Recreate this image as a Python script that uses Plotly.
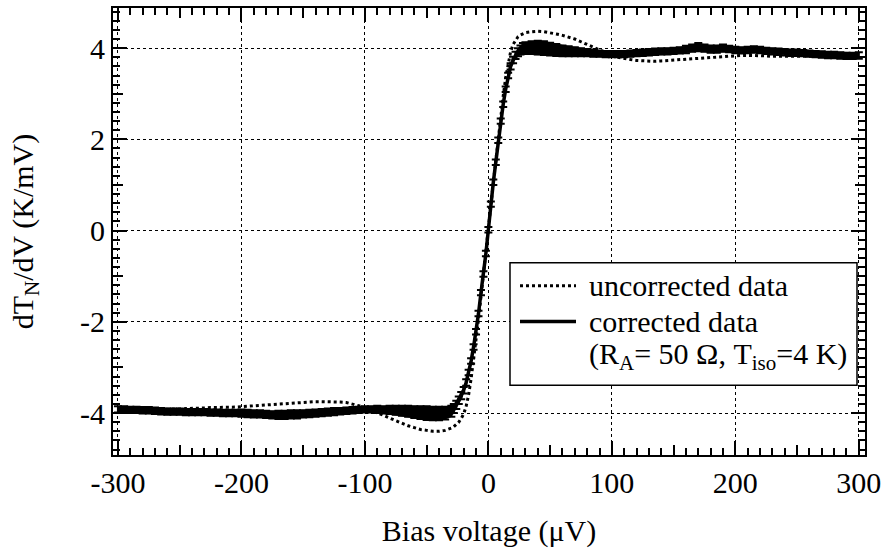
import plotly.graph_objects as go

# ---- data ----
bias_uV = [-300, -295, -290, -285, -280, -275, -270, -265, -260, -255, -250, -245, -240, -235, -230,
           -225, -220, -215, -210, -205, -200, -195, -190, -185, -180, -175, -170, -165, -160, -155,
           -150, -145, -140, -135, -130, -125, -120, -115, -110, -105, -100, -95, -90, -85, -80,
           -75, -70, -65, -60, -55, -50, -45, -40, -35,
           -30, -28, -26, -24, -22, -20, -18, -16, -14, -12, -10, -8, -6, -4, -2,
           0, 2, 4, 6, 8, 10, 12, 14, 16, 18, 20, 22, 24, 26, 28, 30,
           35, 40, 45, 50, 55, 60, 65, 70, 75, 80, 85, 90, 95, 100, 105, 110, 115, 120, 125,
           130, 135, 140, 145, 150, 155, 160, 165, 170, 175, 180, 185, 190, 195, 200, 205,
           210, 215, 220, 225, 230, 235, 240, 245, 250, 255, 260, 265, 270, 275, 280, 285,
           290, 295, 300]

corrected = [-3.92, -3.92, -3.93, -3.93, -3.94, -3.94, -3.95, -3.96, -3.97, -3.97, -3.97, -3.98, -3.98, -3.98, -3.98,
             -3.99, -3.99, -4.00, -4.00, -4.00, -4.00, -4.01, -4.02, -4.02, -4.03, -4.04, -4.04, -4.04, -4.03, -4.03,
             -4.02, -4.01, -4.00, -3.99, -3.98, -3.97, -3.96, -3.95, -3.94, -3.93, -3.92, -3.92, -3.92, -3.93, -3.93,
             -3.94, -3.95, -3.96, -3.98, -3.99, -4.00, -4.01, -4.01, -4.00,
             -3.96, -3.90, -3.82, -3.72, -3.62, -3.50, -3.33, -3.11, -2.86, -2.55, -2.22, -1.82, -1.36, -0.95, -0.50,
             0.02, 0.58, 1.06, 1.50, 1.98, 2.40, 2.77, 3.10, 3.40, 3.60, 3.74, 3.84, 3.91, 3.96, 3.99, 4.00,
             4.01, 4.01, 4.00, 3.98, 3.96, 3.94, 3.93, 3.92, 3.91, 3.90, 3.89, 3.88, 3.87, 3.87, 3.87, 3.87, 3.88, 3.89, 3.90,
             3.91, 3.92, 3.93, 3.93, 3.94, 3.95, 3.97, 4.00, 4.02, 4.00, 3.98, 3.98, 4.00, 3.98, 3.96, 3.95,
             3.96, 3.97, 3.96, 3.94, 3.93, 3.92, 3.91, 3.90, 3.90, 3.89, 3.88, 3.87, 3.86, 3.85, 3.85, 3.84,
             3.83, 3.83, 3.84]

corrected_err = [0.07, 0.07, 0.07, 0.07, 0.07, 0.07, 0.07, 0.07, 0.07, 0.07, 0.07, 0.07, 0.07, 0.07, 0.07,
                 0.07, 0.07, 0.07, 0.07, 0.07, 0.08, 0.08, 0.08, 0.08, 0.08, 0.08, 0.09, 0.09, 0.09, 0.09,
                 0.08, 0.08, 0.08, 0.08, 0.08, 0.08, 0.07, 0.07, 0.07, 0.07, 0.07, 0.07, 0.08, 0.08, 0.09,
                 0.10, 0.11, 0.12, 0.13, 0.14, 0.15, 0.15, 0.15, 0.14,
                 0.12, 0.10, 0.09, 0.08, 0.08, 0.07, 0.07, 0.06, 0.06, 0.06, 0.06, 0.06, 0.06, 0.06, 0.06,
                 0.06, 0.06, 0.06, 0.06, 0.06, 0.06, 0.06, 0.06, 0.06, 0.07, 0.07, 0.08, 0.09, 0.10, 0.12, 0.13,
                 0.14, 0.15, 0.15, 0.14, 0.13, 0.12, 0.11, 0.10, 0.09, 0.08, 0.08, 0.07, 0.07, 0.07, 0.07, 0.07, 0.07, 0.07, 0.07,
                 0.07, 0.07, 0.07, 0.07, 0.07, 0.07, 0.08, 0.08, 0.09, 0.08, 0.08, 0.08, 0.08, 0.07, 0.07, 0.07,
                 0.07, 0.07, 0.07, 0.07, 0.07, 0.07, 0.07, 0.07, 0.07, 0.07, 0.07, 0.07, 0.07, 0.07, 0.07, 0.07,
                 0.07, 0.07, 0.07]

uncorrected = [-3.90, -3.90, -3.91, -3.91, -3.90, -3.91, -3.92, -3.92, -3.92, -3.91, -3.91, -3.90, -3.90, -3.89, -3.89,
               -3.88, -3.88, -3.88, -3.87, -3.87, -3.86, -3.85, -3.84, -3.83, -3.82, -3.81, -3.80, -3.79, -3.78, -3.77,
               -3.76, -3.75, -3.75, -3.75, -3.75, -3.75, -3.76, -3.77, -3.80, -3.84, -3.89, -3.94, -3.99, -4.05, -4.11,
               -4.17, -4.23, -4.28, -4.32, -4.36, -4.38, -4.40, -4.40, -4.38,
               -4.33, -4.30, -4.25, -4.20, -4.12, -4.02, -3.85, -3.60, -3.25, -2.85, -2.42, -1.95, -1.45, -0.98, -0.50,
               0.00, 0.55, 1.05, 1.55, 2.05, 2.52, 2.95, 3.35, 3.68, 3.92, 4.08, 4.18, 4.25, 4.29, 4.32, 4.34,
               4.36, 4.37, 4.36, 4.34, 4.31, 4.28, 4.24, 4.20, 4.14, 4.08, 4.02, 3.95, 3.89, 3.84, 3.80, 3.77, 3.75, 3.73, 3.72,
               3.71, 3.71, 3.72, 3.73, 3.74, 3.75, 3.76, 3.77, 3.78, 3.79, 3.80, 3.81, 3.82, 3.83, 3.83, 3.84,
               3.84, 3.84, 3.83, 3.83, 3.82, 3.82, 3.82, 3.82, 3.82, 3.83, 3.83, 3.82, 3.82, 3.81, 3.81, 3.80,
               3.80, 3.80, 3.80]

legend_labels = ["uncorrected data", "corrected data", "(R<sub>A</sub>= 50 Ω, T<sub>iso</sub>=4 K)"]

x_major = [-300, -200, -100, 0, 100, 200, 300]
x_major_text = ["-300", "-200", "-100", "0", "100", "200", "300"]
x_mid = [-250, -150, -50, 50, 150, 250]
y_major = [-4, -2, 0, 2, 4]
y_major_text = ["-4", "-2", "0", "2", "4"]
y_mid = [-3, -1, 1, 3]

FONT = "Liberation Serif"
XR = [-304, 305]
YR = [-4.92, 4.88]

# plot-area geometry (pixels) used to place the hand-drawn legend box
W, H = 889, 555
ML, MR, MT, MB = 113, 24, 6, 100
PW, PH = W - ML - MR, H - MT - MB


def px(x):
    return (x - ML) / PW


def py(y):
    return (H - MB - y) / PH


# band (corrected ± uncertainty) built from the data arrays
band_x = bias_uV + bias_uV[::-1]
band_y = [c + e for c, e in zip(corrected, corrected_err)] + \
         [c - e for c, e in zip(corrected, corrected_err)][::-1]

fig = go.Figure()

fig.add_trace(go.Scatter(
    x=band_x, y=band_y, mode="lines", fill="toself", fillcolor="black",
    line=dict(color="black", width=0.5), showlegend=False, hoverinfo="skip",
))
fig.add_trace(go.Scatter(
    x=bias_uV, y=uncorrected, mode="lines", name=legend_labels[0],
    line=dict(color="black", width=3, dash="dot"), showlegend=False,
))
fig.add_trace(go.Scatter(
    x=bias_uV, y=corrected, mode="lines", name=legend_labels[1],
    line=dict(color="black", width=3.5), showlegend=False,
    error_y=dict(type="data", array=corrected_err, visible=True, color="black",
                 thickness=2, width=4),
))
# overlay axes carrying the mid-length ticks
fig.add_trace(go.Scatter(x=[None], y=[None], xaxis="x2", yaxis="y2",
                         showlegend=False, hoverinfo="skip"))

# legend box drawn by hand (longer line samples, as in the reference)
shapes = [
    dict(type="rect", xref="paper", yref="paper",
         x0=px(510), x1=px(857), y0=py(385), y1=py(262),
         line=dict(color="black", width=1.5), fillcolor="white", layer="above"),
    dict(type="line", xref="paper", yref="paper",
         x0=px(520), x1=px(576), y0=py(285), y1=py(285),
         line=dict(color="black", width=3, dash="dot"), layer="above"),
    dict(type="line", xref="paper", yref="paper",
         x0=px(520), x1=px(576), y0=py(321), y1=py(321),
         line=dict(color="black", width=3.5), layer="above"),
]
row_y = [285, 321, 356]
annotations = [
    dict(text=t, xref="paper", yref="paper", x=px(587), y=py(yy),
         xanchor="left", yanchor="middle", showarrow=False,
         font=dict(family=FONT, size=30, color="black"))
    for t, yy in zip(legend_labels, row_y)
]

fig.update_layout(
    width=W, height=H,
    margin=dict(l=ML, r=MR, t=MT, b=MB),
    paper_bgcolor="white", plot_bgcolor="white",
    font=dict(family=FONT, size=30, color="black"),
    showlegend=False,
    shapes=shapes,
    annotations=annotations,
    xaxis=dict(
        range=XR, tickmode="array", tickvals=x_major, ticktext=x_major_text,
        ticks="inside", ticklen=14, tickwidth=2, tickcolor="black",
        showline=True, linewidth=2, linecolor="black", mirror="ticks",
        showgrid=True, gridcolor="black", gridwidth=1, griddash="dot",
        zeroline=False,
        minor=dict(dtick=10, tick0=0, ticks="inside", ticklen=7, tickwidth=1.5,
                   tickcolor="black", showgrid=False),
        title=dict(text="Bias voltage (μV)", standoff=22,
                   font=dict(family=FONT, size=30)),
        tickfont=dict(family=FONT, size=30),
    ),
    yaxis=dict(
        range=YR, tickmode="array", tickvals=y_major, ticktext=y_major_text,
        ticks="inside", ticklen=14, tickwidth=2, tickcolor="black",
        showline=True, linewidth=2, linecolor="black", mirror="ticks",
        showgrid=True, gridcolor="black", gridwidth=1, griddash="dot",
        zeroline=False,
        minor=dict(dtick=0.2, tick0=0, ticks="inside", ticklen=7, tickwidth=1.5,
                   tickcolor="black", showgrid=False),
        title=dict(text="dT<sub>N</sub>/dV (K/mV)", standoff=38,
                   font=dict(family=FONT, size=30)),
        tickfont=dict(family=FONT, size=30),
    ),
    xaxis2=dict(
        overlaying="x", anchor="y2", side="bottom", range=XR,
        tickmode="array", tickvals=x_mid, ticks="inside", ticklen=10,
        tickwidth=1.5, tickcolor="black", showticklabels=False,
        showline=False, mirror="ticks", showgrid=False, zeroline=False,
    ),
    yaxis2=dict(
        overlaying="y", anchor="x2", side="left", range=YR,
        tickmode="array", tickvals=y_mid, ticks="inside", ticklen=10,
        tickwidth=1.5, tickcolor="black", showticklabels=False,
        showline=False, mirror="ticks", showgrid=False, zeroline=False,
    ),
)

fig.write_html("out.html")
